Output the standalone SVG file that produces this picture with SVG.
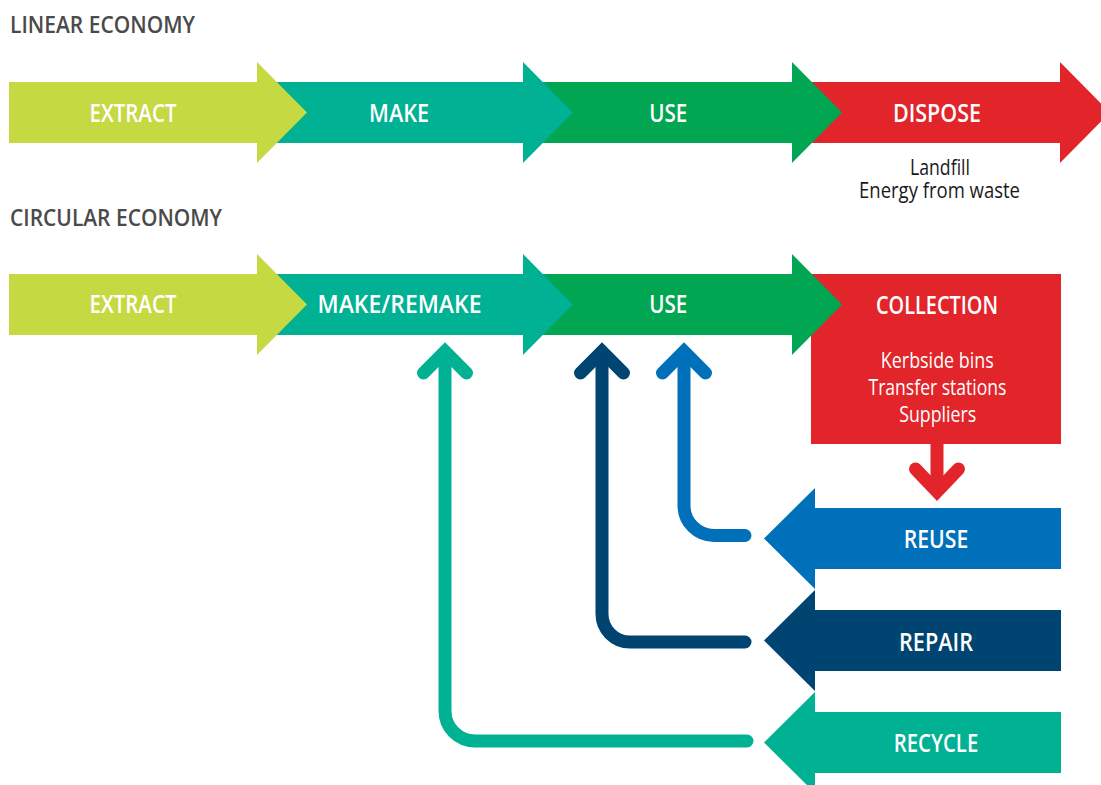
<svg xmlns="http://www.w3.org/2000/svg" width="1101" height="785" viewBox="0 0 1101 785">
  <style>
    .lbl { font-family: "Open Sans", "Liberation Sans", sans-serif; font-weight: 600; font-size: 25px; fill: #ffffff; text-anchor: middle; }
    .title { font-family: "Open Sans", "Liberation Sans", sans-serif; font-weight: 600; font-size: 23px; fill: #4a4a4a; }
    .sub { font-family: "Open Sans", "Liberation Sans", sans-serif; font-weight: 400; font-size: 21px; text-anchor: middle; }
    .lime { fill: #c4d942; }
    .teal { fill: #00b193; }
    .green { fill: #00a651; }
    .red { fill: #e1252a; }
    .blue { fill: #0070ba; }
    .navy { fill: #004471; }
    .flow { fill: none; stroke-width: 13; stroke-linecap: round; stroke-linejoin: round; }
    .head { fill: none; stroke-width: 13; stroke-linecap: round; stroke-linejoin: miter; stroke-miterlimit: 4; }
  </style>

  <rect width="1101" height="785" fill="#ffffff"/>

  <!-- Section titles -->
  <text class="title" x="10" y="33.3" textLength="185" lengthAdjust="spacingAndGlyphs">LINEAR ECONOMY</text>
  <text class="title" x="10" y="226" textLength="212" lengthAdjust="spacingAndGlyphs">CIRCULAR ECONOMY</text>

  <!-- Linear economy: drawn right to left so each arrowhead overlaps the next bar -->
  <g id="lin-dispose">
    <polygon class="red" points="792,82 1060,82 1060,62 1110,112.5 1060,163 1060,143 792,143"/>
    <text class="lbl" x="937" y="121.7" textLength="88" lengthAdjust="spacingAndGlyphs">DISPOSE</text>
    <text class="sub" x="940" y="175" fill="#1a1a1a" textLength="60" lengthAdjust="spacingAndGlyphs">Landfill</text>
    <text class="sub" x="939.5" y="198.3" fill="#1a1a1a" textLength="161" lengthAdjust="spacingAndGlyphs">Energy from waste</text>
  </g>
  <g id="lin-use">
    <polygon class="green" points="523,82 792,82 792,62 842,112.5 792,163 792,143 523,143"/>
    <text class="lbl" x="668.3" y="121.7" textLength="38" lengthAdjust="spacingAndGlyphs">USE</text>
  </g>
  <g id="lin-make">
    <polygon class="teal" points="257,82 523,82 523,62 573,112.5 523,163 523,143 257,143"/>
    <text class="lbl" x="399" y="121.7" textLength="60" lengthAdjust="spacingAndGlyphs">MAKE</text>
  </g>
  <g id="lin-extract">
    <polygon class="lime" points="9,82 257,82 257,62 307,112.5 257,163 257,143 9,143"/>
    <text class="lbl" x="133" y="121.7" textLength="87" lengthAdjust="spacingAndGlyphs">EXTRACT</text>
  </g>

  <!-- Circular economy -->
  <g id="collection">
    <rect class="red" x="811" y="274" width="250" height="170"/>
    <text class="lbl" x="937" y="314.3" textLength="122" lengthAdjust="spacingAndGlyphs">COLLECTION</text>
    <text class="sub" x="937.3" y="368.3" fill="#ffffff" textLength="113" lengthAdjust="spacingAndGlyphs">Kerbside bins</text>
    <text class="sub" x="937.5" y="395" fill="#ffffff" textLength="138" lengthAdjust="spacingAndGlyphs">Transfer stations</text>
    <text class="sub" x="937.7" y="421.7" fill="#ffffff" textLength="77" lengthAdjust="spacingAndGlyphs">Suppliers</text>
  </g>
  <g id="circ-use">
    <polygon class="green" points="523,274 792,274 792,254 842,304.5 792,355 792,335 523,335"/>
    <text class="lbl" x="668.3" y="313.3" textLength="38" lengthAdjust="spacingAndGlyphs">USE</text>
  </g>
  <g id="circ-make">
    <polygon class="teal" points="257,274 523,274 523,254 573,304.5 523,355 523,335 257,335"/>
    <text class="lbl" x="399.5" y="313.3" textLength="164" lengthAdjust="spacingAndGlyphs">MAKE/REMAKE</text>
  </g>
  <g id="circ-extract">
    <polygon class="lime" points="9,274 257,274 257,254 307,304.5 257,355 257,335 9,335"/>
    <text class="lbl" x="133" y="313.3" textLength="87" lengthAdjust="spacingAndGlyphs">EXTRACT</text>
  </g>

  <g id="reuse">
    <polygon class="blue" points="1061,508 815,508 815,488 764,538.5 815,589 815,569 1061,569"/>
    <text class="lbl" x="936" y="548.3" textLength="64.5" lengthAdjust="spacingAndGlyphs">REUSE</text>
  </g>
  <g id="repair">
    <polygon class="navy" points="1061,610 815,610 815,590 764,640.5 815,691 815,671 1061,671"/>
    <text class="lbl" x="936" y="650.7" textLength="74" lengthAdjust="spacingAndGlyphs">REPAIR</text>
  </g>
  <g id="recycle">
    <polygon class="teal" points="1061,712 815,712 815,692 764,742.5 815,793 815,773 1061,773"/>
    <text class="lbl" x="936" y="752.3" textLength="84.5" lengthAdjust="spacingAndGlyphs">RECYCLE</text>
  </g>

  <!-- Connectors -->
  <g id="connectors">
    <!-- collection to reuse -->
    <path class="flow" stroke="#e1252a" d="M937 444 V490"/>
    <path class="head" stroke="#e1252a" d="M915.5 469 L937 491.5 L958.5 469"/>
    <!-- reuse back to use -->
    <path class="flow" stroke="#0070ba" d="M745 535.5 H714 A30 30 0 0 1 684 505.5 V352"/>
    <path class="head" stroke="#0070ba" d="M662.5 373 L684 351.5 L705.5 373"/>
    <!-- repair back to use -->
    <path class="flow" stroke="#004471" d="M745 642 H630 A28 28 0 0 1 602 614 V352"/>
    <path class="head" stroke="#004471" d="M580.5 373 L602 351.5 L623.5 373"/>
    <!-- recycle back to make/remake -->
    <path class="flow" stroke="#00b193" d="M747 741 H475 A30 30 0 0 1 445 711 V352"/>
    <path class="head" stroke="#00b193" d="M423.5 373 L445 351.5 L466.5 373"/>
  </g>
</svg>
